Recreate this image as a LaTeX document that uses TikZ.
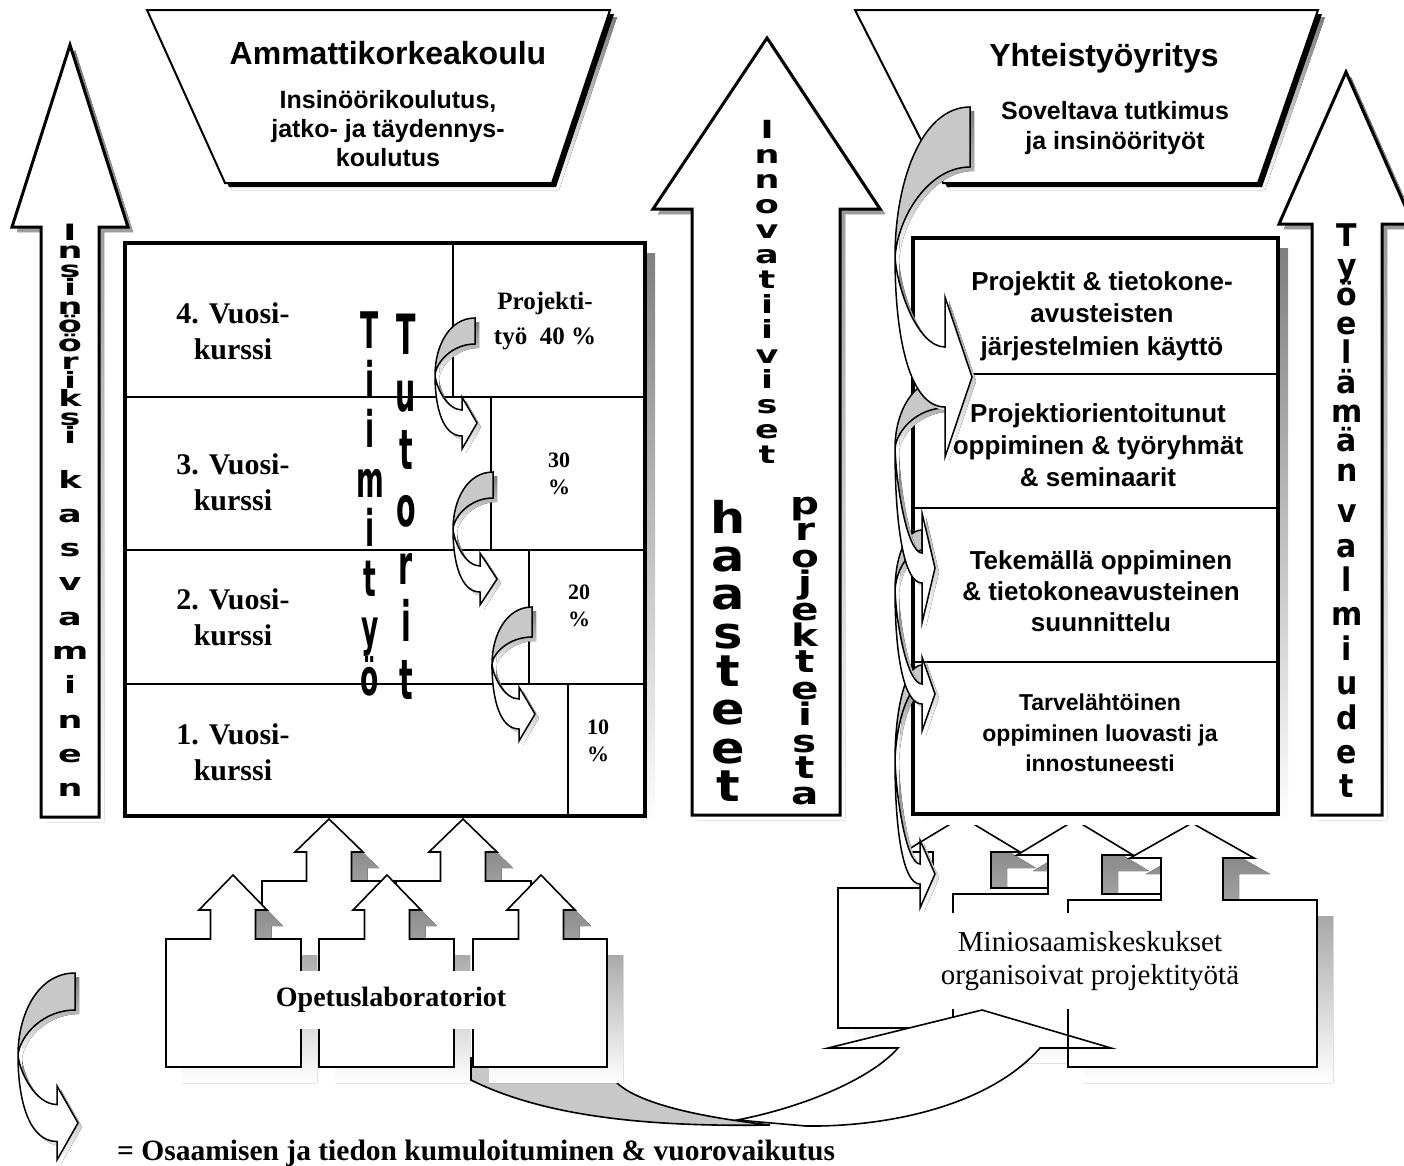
\documentclass[tikz,border=0pt]{standalone}
\usepackage{fontspec}
\usepackage{graphicx}
\setmainfont{Liberation Serif}
\newfontfamily\sansfont{Liberation Sans}
\newfontfamily\stackfont{DejaVu Sans}

\definecolor{shade}{HTML}{808080}
\definecolor{backface}{HTML}{C8C8C8}

\newcommand\sansfs[2]{\sansfont\bfseries\fontsize{#1}{#2}\selectfont}
\newcommand\seriffs[2]{\bfseries\fontsize{#1}{#2}\selectfont}

\makeatletter
% letters stacked one under the other: #1 pitch, #2 size, #3 x-scale, #4 y-scale, #5 word
\newcommand\letterstack[5]{%
  \vbox{\fontsize{#2}{#1}\selectfont\baselineskip=#1\relax
    \lineskiplimit=-\maxdimen
    \@tfor\ls@c:=#5\do{\hbox to 0pt{\hss\scalebox{#3}[#4]{\ls@c}\hss}}}}
\makeatother

% house-shaped up arrow with drop shadow:
% tip x, tip y, head half width, head base y, shaft half width, body top, body left, body right, body bottom
\newcommand\house[9]{%
  \def\hp{(#1,#2) -- ({#1+#3},#4) -- ({#1+#5},#4) -- ({#1+#5},#6) -- (#8,#6) -- (#8,#9)
    -- (#7,#9) -- (#7,#6) -- ({#1-#5},#6) -- ({#1-#5},#4) -- ({#1-#3},#4) -- cycle}%
  \fill[shade,shift={(16,16)}] \hp;
  \filldraw[housestyle] \hp;}

% bent arrow (shaded back face on top, white front face ending in a head):
% origin x, origin y, top x, band width, y of left turn, head base x, head centre y, head half height, tip x
\newcommand\bentarrow[9]{%
  \begin{scope}[shift={(#1,#2)}]
    \def\bagray{(#3,0) .. controls ({0.35*#3},0) and (0,{0.5*#5}) .. (0,#5)
      .. controls ({0.04*#3},{#5-0.45*(#5-#4)}) and ({0.45*#3},#4) .. (#3,#4) -- cycle}%
    \def\bawhite{(0,#5) .. controls (0,{#5+0.55*(#7+0.5*#4-#5)}) and ({0.3*#6},{#7+0.5*#4}) .. (#6,{#7+0.5*#4})
      -- (#6,{#7+#8}) -- (#9,#7) -- (#6,{#7-#8}) -- (#6,{#7-0.5*#4})
      .. controls ({0.45*#6},{#7-0.5*#4}) and ({0.04*#6},{#5+0.35*(#7-0.5*#4-#5)}) .. (0,#5) -- cycle}%
    \fill[shade,shift={(4,4)}] \bagray;
    \fill[shade,shift={(4,4)}] \bawhite;
    \filldraw[fill=backface,draw=black,line width=1.5pt] \bagray;
    \filldraw[fill=white,draw=black,line width=1.5pt] \bawhite;
  \end{scope}}

\begin{document}
\begin{tikzpicture}[x=1pt,y=-1pt,line join=miter,
  bigarrow/.style={fill=white,draw=black,line width=3pt},
  mainframe/.style={fill=white,draw=black,line width=4pt},
  trapstyle/.style={fill=white,draw=black,line width=2pt},
  housestyle/.style={fill=white,draw=black,line width=1.6pt},
  thinline/.style={draw=black,line width=1.4pt},
  txt/.style={inner sep=0pt,outer sep=0pt,align=center},
  vstack/.style={inner sep=0pt,outer sep=0pt,anchor=north,font=\stackfont\bfseries}]

\useasboundingbox (0,0) rectangle (1404,1165);
\fill[white] (0,0) rectangle (1404,1165);

% ---------- header trapezoids
\def\trapL{(147,10) -- (610,10) -- (552,183) -- (225,183) -- cycle}
\def\trapR{(855,10) -- (1318,10) -- (1258,183) -- (943,183) -- cycle}
\foreach \p in {\trapL,\trapR}{%
  \fill[shade,shift={(7,7)}] \p;
  \fill[black,shift={(4,4)}] \p;
  \filldraw[trapstyle] \p;}

% ---------- tall up arrows
\def\arrL{(70,45) -- (128,227) -- (99,227) -- (99,817) -- (41,817) -- (41,227) -- (12,227) -- cycle}
\def\arrM{(767,38) -- (880,209) -- (840,209) -- (840,815) -- (692,815) -- (692,209) -- (653,209) -- cycle}
\def\arrR{(1346,72) -- (1413,224) -- (1382,224) -- (1382,815) -- (1312,815) -- (1312,224) -- (1279,224) -- cycle}
\foreach \p in {\arrL,\arrM,\arrR}{%
  \fill[shade,shift={(5,5)}] \p;
  \filldraw[bigarrow] \p;}

% ---------- houses under the company frame
\house{962}{817}{58}{852}{29}{888}{838}{1087}{1028}
\house{1075}{820}{58}{855}{27}{894}{953}{1202}{1047}
\house{1192}{823}{62}{858}{31}{900}{1068}{1317}{1067}

% ---------- long bent arrow from the laboratories to the centres
\filldraw[fill=backface,draw=black,line width=1.6pt] (471,1058) -- (471,1080)
  .. controls (545,1117) and (650,1127) .. (770,1125)
  .. controls (700,1117) and (640,1104) .. (617,1083) -- (617,1058) -- cycle;
\filldraw[fill=white,draw=black,line width=1.6pt] (737,1120)
  .. controls (800,1108) and (870,1080) .. (898,1048) -- (828,1048) -- (982,1010)
  -- (1111,1048) -- (1040,1048) .. controls (990,1105) and (890,1127) .. (806,1126) -- cycle;
\draw[line width=1.6pt] (1068,1009) -- (1068,1067);

% ---------- main frames
\fill[shade] (135,253) rectangle (655,826);
\filldraw[mainframe] (125,243) rectangle (645,816);
\fill[shade] (923,248) rectangle (1288,824);
\filldraw[mainframe] (913,238) rectangle (1278,814);

% rows and project-work steps
\draw[thinline] (125,397) -- (645,397) (125,550) -- (645,550) (125,684) -- (645,684);
\draw[thinline] (453,243) -- (453,397) (491,397) -- (491,550) (529,550) -- (529,684) (568,684) -- (568,816);
\draw[thinline] (913,374) -- (1278,374) (913,508) -- (1278,508) (913,662) -- (1278,662);

% ---------- laboratory houses
\house{329}{819}{34}{852}{22.5}{881}{262}{397}{1010}
\house{463}{819}{34}{852}{22.5}{881}{396}{531}{1010}
\house{233}{875}{34}{910}{22.5}{939}{166}{301}{1067}
\house{387}{875}{34}{910}{22.5}{939}{319}{454}{1067}
\house{541}{875}{34}{910}{22.5}{939}{473}{607}{1067}

% ---------- header texts
\node[txt,font=\sansfs{32}{38}] (amk) at (388,53) {Ammattikorkeakoulu};
\node[txt,font=\sansfs{25}{29}] (amksub) at (388,129) {Insinöörikoulutus,\\jatko- ja täydennys-\\koulutus};
\node[txt,font=\sansfs{32}{38}] (yri) at (1104,58) {Yhteistyöyritys};
\node[txt,font=\sansfs{25}{30}] (yrisub) at (1115,128) {Soveltava tutkimus\\ja insinöörityöt};

% ---------- stacked arrow words
\node[vstack] (lw1) at (70,224) {\letterstack{18.5pt}{25}{1.4}{0.9}{Insinööriksi}};
\node[vstack] (lw2) at (70,470) {\letterstack{34.3pt}{25}{1.4}{0.95}{kasvaminen}};
\node[vstack] (mw1) at (767,120) {\letterstack{25pt}{25}{1.4}{1.0}{Innovatiiviset}};
\node[vstack] (mw2) at (728,500) {\letterstack{38.3pt}{38}{1.3}{1.15}{haasteet}};
\node[vstack] (mw3) at (805,497) {\letterstack{26.4pt}{27}{1.5}{1.15}{projekteista}};
\node[vstack] (rw1) at (1347,224) {\letterstack{29.3pt}{25}{1.2}{1.25}{Työelämän}};
\node[vstack] (rw2) at (1347,505) {\letterstack{34.4pt}{25}{1.2}{1.3}{valmiudet}};
\node[vstack] (tw1) at (370,312) {\letterstack{49.5pt}{28}{0.95}{1.8}{Tiimityö}};
\node[vstack] (tw2) at (406,314) {\letterstack{57.5pt}{30}{0.95}{1.85}{Tutorit}};

% ---------- year rows
\node[txt,font=\seriffs{30}{36}] (v4) at (233,331) {4. Vuosi-\\kurssi};
\node[txt,font=\seriffs{30}{36}] (v3) at (233,482) {3. Vuosi-\\kurssi};
\node[txt,font=\seriffs{30}{36}] (v2) at (233,617) {2. Vuosi-\\kurssi};
\node[txt,font=\seriffs{30}{36}] (v1) at (233,752) {1. Vuosi-\\kurssi};

\node[txt,font=\seriffs{25}{35}] (p40) at (545,321) {Projekti-\\työ\enspace 40~\%};
\node[txt,font=\seriffs{22}{27}] (p30) at (559,474) {30\\\%};
\node[txt,font=\seriffs{22}{27}] (p20) at (579,606) {20\\\%};
\node[txt,font=\seriffs{22}{27}] (p10) at (598,741) {10\\\%};

% ---------- company rows
\node[txt,font=\sansfs{26}{32.5}] (c1) at (1102,316) {Projektit \& tietokone-\\avusteisten\\järjestelmien käyttö};
\node[txt,font=\sansfs{26}{32}] (c2) at (1098,445) {Projektiorientoitunut\\oppiminen \& työryhmät\\\& seminaarit};
\node[txt,font=\sansfs{26}{31}] (c3) at (1101,591) {Tekemällä oppiminen\\\& tietokoneavusteinen\\suunnittelu};
\node[txt,font=\sansfs{23}{30.5}] (c4) at (1100,733) {Tarvelähtöinen\\oppiminen luovasti ja\\innostuneesti};

% ---------- labels over the houses
\node[txt,fill=white,font=\seriffs{28}{34},minimum height=58pt,inner xsep=6pt] (lab) at (391,1000) {Opetuslaboratoriot};
\node[txt,fill=white,font=\fontsize{29}{33}\selectfont,minimum height=96pt,inner xsep=8pt] (mini) at (1090,961) {Miniosaamiskeskukset\\organisoivat projektityötä};

% ---------- bent arrows between the steps
\bentarrow{435}{318}{40}{26}{57}{27}{105}{26}{42}
\bentarrow{453}{472}{40}{26}{57}{27}{107}{26}{44}
\bentarrow{492}{607}{40}{30}{57}{27}{107}{27}{43}

\bentarrow{895}{665}{27}{20}{95}{25}{209}{34}{40}
\bentarrow{895}{530}{27}{20}{60}{27}{164}{37}{40}
\bentarrow{895}{378}{50}{30}{70}{27}{190}{55}{40}
\bentarrow{895}{107}{75}{60}{150}{50}{270}{80}{77}

% ---------- legend
\bentarrow{18}{973}{57}{37}{82}{39}{150}{37}{60}
\node[anchor=base west,inner sep=0pt,font=\seriffs{29.5}{34}] (legend) at (117,1160) {= Osaamisen ja tiedon kumuloituminen \& vuorovaikutus};

\end{tikzpicture}
\end{document}
